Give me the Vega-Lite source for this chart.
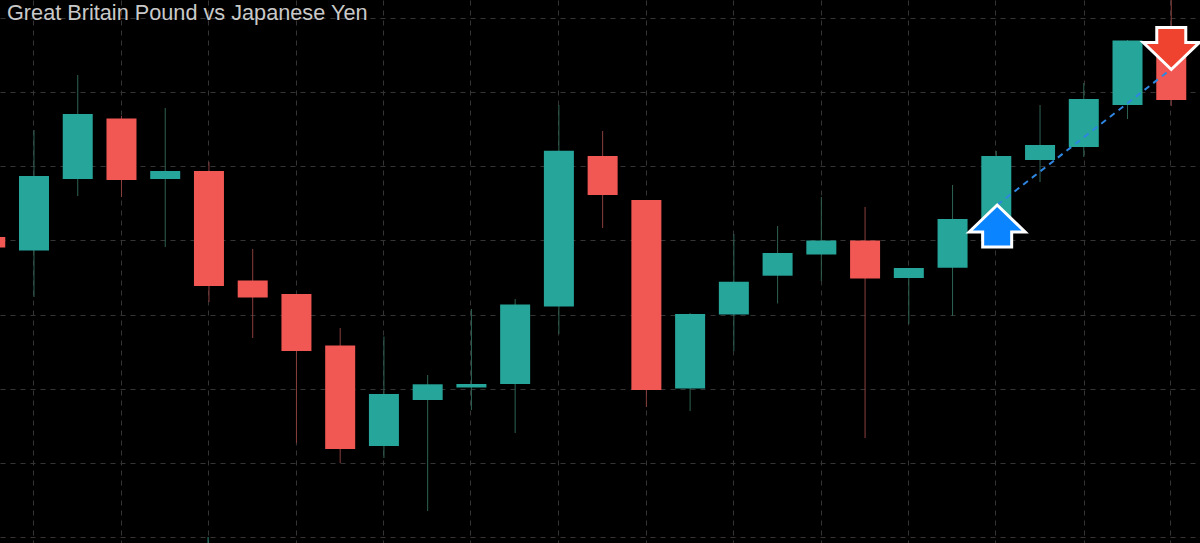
{
"$schema":"https://vega.github.io/schema/vega-lite/v6.json",
"width":1200,"height":543,"padding":0,
"autosize":{"type":"fit","contains":"padding"},
"background":"#000000",
"config":{"view":{"stroke":null}},
"title":{"text":"Great Britain Pound vs Japanese Yen","anchor":"start","frame":"group","orient":"top","offset":-24.5,"dx":7,"font":"Liberation Sans","fontSize":21.7,"fontWeight":"normal","color":"#c9c9c9"},
"datasets":{
"candles":[
{"k":-1,"open":306,"high":306,"low":295.5,"close":295.5,"dir":"down"},
{"k":0,"open":292.5,"high":413,"low":246,"close":367,"dir":"up"},
{"k":1,"open":364,"high":468,"low":347,"close":429,"dir":"up"},
{"k":2,"open":424.5,"high":427,"low":346,"close":363,"dir":"down"},
{"k":3,"open":364,"high":435,"low":296,"close":372,"dir":"up"},
{"k":4,"open":372,"high":381,"low":241,"close":257,"dir":"down"},
{"k":5,"open":262.5,"high":294,"low":205,"close":245.5,"dir":"down"},
{"k":6,"open":249,"high":249,"low":100,"close":192,"dir":"down"},
{"k":7,"open":197.5,"high":215,"low":80,"close":94,"dir":"down"},
{"k":8,"open":97,"high":206.5,"low":85,"close":149,"dir":"up"},
{"k":9,"open":143,"high":168,"low":32,"close":158.7,"dir":"up"},
{"k":10,"open":155.5,"high":234,"low":133,"close":159,"dir":"up"},
{"k":11,"open":159,"high":244,"low":110,"close":238.5,"dir":"up"},
{"k":12,"open":236.5,"high":438,"low":209,"close":392.3,"dir":"up"},
{"k":13,"open":387,"high":412,"low":315,"close":348,"dir":"down"},
{"k":14,"open":343,"high":343,"low":136,"close":153,"dir":"down"},
{"k":15,"open":154.5,"high":230,"low":132,"close":229,"dir":"up"},
{"k":16,"open":228.5,"high":309,"low":192,"close":261.3,"dir":"up"},
{"k":17,"open":267.3,"high":317,"low":239.5,"close":290,"dir":"up"},
{"k":18,"open":288.5,"high":346,"low":262,"close":302.5,"dir":"up"},
{"k":19,"open":302.5,"high":336,"low":105,"close":264.5,"dir":"down"},
{"k":20,"open":265,"high":275,"low":219,"close":275,"dir":"up"},
{"k":21,"open":275.3,"high":358,"low":227,"close":324,"dir":"up"},
{"k":22,"open":303,"high":392,"low":303,"close":387,"dir":"up"},
{"k":23,"open":383,"high":438,"low":361,"close":398,"dir":"up"},
{"k":24,"open":396,"high":460,"low":386,"close":444,"dir":"up"},
{"k":25,"open":438,"high":503,"low":424,"close":502.5,"dir":"up"},
{"k":26,"open":503,"high":543,"low":437,"close":443,"dir":"down"}
],
"fragment":[{"k":3.98,"high":6,"low":0}],
"trade":[{"k":22.02,"price":338},{"k":26.0,"price":474}],
"entry":[{"k":22.02,"price":317}],
"exit":[{"k":26.0,"price":494.5}]
},
"encoding":{
"x":{"field":"k","type":"quantitative","title":null,"scale":{"domain":[-0.7773,26.657],"nice":false,"zero":false,"padding":0},
"axis":{"values":[-0.02,1.98,3.98,5.98,7.97,9.97,11.99,13.99,15.98,17.99,19.97,21.98,24,25.97],"labels":false,"ticks":false,"domain":false,"title":null,"grid":true,"gridColor":"#343434","gridDash":[5,5],"gridWidth":1}},
"y":{"type":"quantitative","title":null,"scale":{"domain":[0,543],"nice":false,"zero":false},
"axis":{"values":[6,80,154.5,228.5,303,377,450.5,525],"labels":false,"ticks":false,"domain":false,"title":null,"grid":true,"gridColor":"#343434","gridDash":[5,5],"gridWidth":1}}
},
"layer":[
{"data":{"name":"fragment"},"mark":{"type":"rule","strokeWidth":1,"color":"#2f8f80","clip":true},
"encoding":{"y":{"field":"high","type":"quantitative"},"y2":{"field":"low"}}},
{"data":{"name":"candles"},"mark":{"type":"rule","strokeWidth":1,"clip":true},
"encoding":{"y":{"field":"high","type":"quantitative"},"y2":{"field":"low"},
"color":{"field":"dir","type":"nominal","legend":null,"scale":{"domain":["up","down"],"range":["#2f6354","#8a3f3d"]}}}},
{"data":{"name":"candles"},"mark":{"type":"bar","size":30,"strokeWidth":0,"clip":true},
"encoding":{"y":{"field":"open","type":"quantitative"},"y2":{"field":"close"},
"color":{"field":"dir","type":"nominal","legend":null,"scale":{"domain":["up","down"],"range":["#26a69a","#f15753"]}}}},
{"data":{"name":"trade"},"mark":{"type":"line","color":"#2f86e0","strokeWidth":2,"strokeDash":[6,5],"clip":true},
"encoding":{"y":{"field":"price","type":"quantitative"}}},
{"data":{"name":"entry"},"mark":{"type":"point","filled":true,"size":3136,"opacity":1,"color":"#0a84ff","stroke":"#ffffff","strokeWidth":3,"strokeJoin":"miter","clip":true,"shape":"M0,-0.75 L1,0.214 L0.518,0.214 L0.518,0.75 L-0.518,0.75 L-0.518,0.214 L-1,0.214 Z"},
"encoding":{"y":{"field":"price","type":"quantitative"}}},
{"data":{"name":"exit"},"mark":{"type":"point","filled":true,"size":3136,"opacity":1,"color":"#f0432f","stroke":"#ffffff","strokeWidth":3,"strokeJoin":"miter","clip":true,"shape":"M0,0.75 L1,-0.214 L0.518,-0.214 L0.518,-0.75 L-0.518,-0.75 L-0.518,-0.214 L-1,-0.214 Z"},
"encoding":{"y":{"field":"price","type":"quantitative"}}}
],
"resolve":{"scale":{"color":"independent"}}
}
